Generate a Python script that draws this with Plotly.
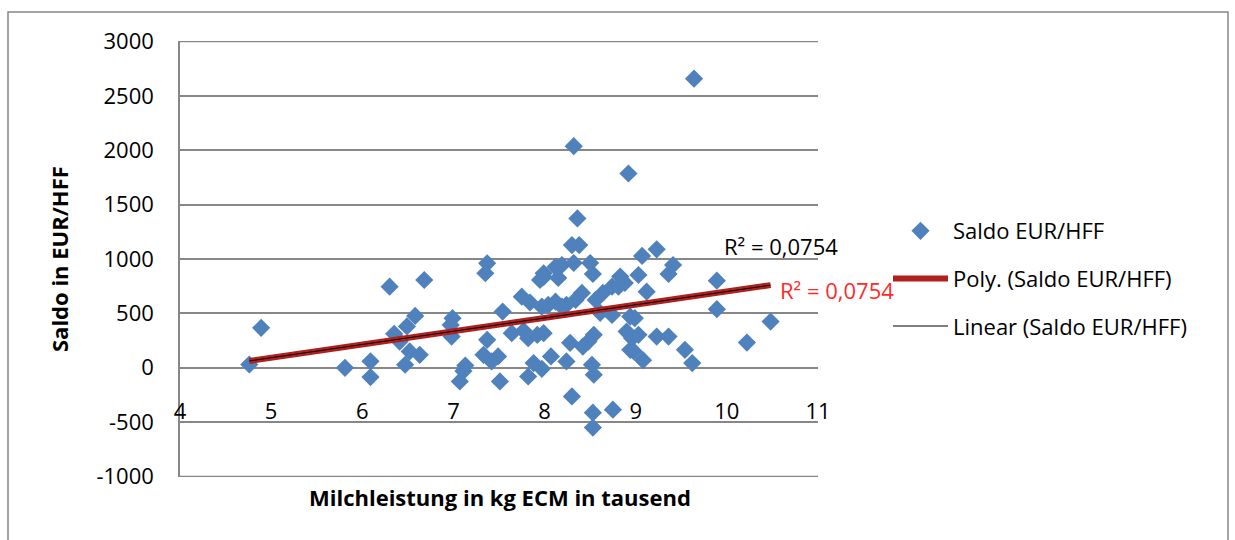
import numpy as np
import plotly.graph_objects as go

# Milchleistung in kg ECM (in tausend) and Saldo EUR/HFF
milch = [4.76, 4.89, 5.81, 6.09, 6.09, 6.30, 6.68, 6.58, 6.49, 6.35,
         6.41, 6.52, 6.63, 6.47, 6.99, 6.97, 6.98, 7.13, 7.11, 7.07,
         7.37, 7.35, 7.54, 7.37, 7.33, 7.49, 7.42, 7.51, 7.64, 7.75,
         7.84, 7.77, 7.82, 7.92, 7.95, 7.99, 7.88, 7.82, 7.97, 8.07,
         7.99, 7.99, 8.12, 8.19, 8.32, 8.50, 8.53, 8.15, 8.41, 8.34,
         8.24, 8.12, 8.04, 7.97, 8.19, 8.56, 8.64, 8.74, 8.83, 8.81,
         8.88, 8.61, 8.74, 8.94, 8.28, 8.54, 8.48, 8.42, 8.24, 8.52,
         8.54, 8.30, 8.75, 8.53, 8.53, 8.90, 8.96, 8.94, 9.08, 8.32,
         8.92, 8.36, 8.30, 8.38, 9.07, 9.23, 9.41, 9.36, 9.03, 9.12,
         9.89, 9.89, 8.99, 9.03, 9.23, 9.36, 8.98, 9.54, 9.62, 9.64,
         10.48, 10.22]
saldo = [30, 367, 0, 60, -85, 746, 807, 477, 380, 312,
         241, 150, 119, 28, 456, 394, 287, 20, -30, -125,
         960, 869, 517, 257, 119, 104, 58, -125, 318, 654,
         600, 340, 272, 303, 807, 869, 43, -80, -10, 104,
         318, 835, 927, 945, 963, 963, 862, 826, 688, 624,
         578, 608, 578, 562, 562, 624, 688, 746, 838, 746,
         780, 505, 486, 471, 229, 303, 241, 195, 58, 28,
         -64, -263, -385, -413, -550, 333, 272, 165, 70, 2037,
         1786, 1373, 1128, 1128, 1028, 1089, 945, 862, 853, 700,
         801, 539, 456, 303, 287, 287, 150, 165, 43, 2658,
         425, 232]

series_name = "Saldo EUR/HFF"
r2_label = "R² = 0,0754"
x_ticks = [4, 5, 6, 7, 8, 9, 10, 11]
y_ticks = [-1000, -500, 0, 500, 1000, 1500, 2000, 2500, 3000]
y_ticktext = ["-1000", "-500", "0", "500", "1000", "1500", "2000", "2500", "3000"]

FONT = "Open Sans"
FS = 22
GRID = "#878787"

xa = np.array(milch)
ya = np.array(saldo)
coef = np.polyfit(xa, ya, 1)
xt = np.linspace(xa.min(), xa.max(), 60)
yt = np.polyval(coef, xt)

fig = go.Figure()
fig.add_trace(go.Scatter(
    x=milch, y=saldo, mode="markers", name=series_name,
    marker=dict(symbol="diamond", size=14, color="#4F81BD", line=dict(width=0)),
    legendgroup="a"))
fig.add_trace(go.Scatter(
    x=xt, y=yt, mode="lines", name="Poly. (" + series_name + ")",
    line=dict(color="#B0201F", width=6), legendgroup="b"))
fig.add_trace(go.Scatter(
    x=xt, y=yt, mode="lines", name="Linear (" + series_name + ")",
    line=dict(color="black", width=1), legendgroup="c"))

L, R, T, B = 180, 417, 41, 63
W, H = 1235, 540
pw, ph = W - L - R, H - T - B

def px(x):
    return (x - L) / pw

def py(y):
    return (H - B - y) / ph

fig.update_layout(
    width=W, height=H,
    margin=dict(l=L, r=R, t=T, b=B),
    paper_bgcolor="white", plot_bgcolor="white",
    font=dict(family=FONT, size=FS, color="black"),
    showlegend=True,
    legend=dict(x=px(888), y=py(210), xanchor="left", yanchor="top",
                traceorder="grouped", tracegroupgap=16, itemwidth=55,
                font=dict(family=FONT, size=FS, color="black"),
                bgcolor="rgba(0,0,0,0)"),
    xaxis=dict(range=[4, 11], tickvals=x_ticks, showgrid=False, zeroline=False,
               showline=False, anchor="free", position=py(396),
               tickfont=dict(family=FONT, size=FS)),
    yaxis=dict(range=[-1004, 3004], tickvals=y_ticks, ticktext=y_ticktext,
               showgrid=True, gridcolor=GRID, gridwidth=1.5, zeroline=False,
               showline=True, linecolor=GRID, linewidth=1.5, ticks="",
               ticklabelstandoff=20, tickfont=dict(family=FONT, size=FS)),
)

# gridlines at the ends of the value range
for yv in (y_ticks[0], y_ticks[-1]):
    fig.add_shape(type="line", xref="paper", yref="y", x0=0, x1=1, y0=yv, y1=yv,
                  line=dict(color=GRID, width=1.5), layer="below")

fig.add_annotation(x=px(500), y=py(497), xref="paper", yref="paper",
                   xanchor="center", yanchor="middle",
                   text="<b>Milchleistung in kg ECM in tausend</b>", showarrow=False,
                   font=dict(family=FONT, size=FS, color="black"))
fig.add_annotation(x=px(59), y=py(259), xref="paper", yref="paper",
                   xanchor="center", yanchor="middle",
                   text="<b>Saldo in EUR/HFF</b>", showarrow=False, textangle=-90,
                   font=dict(family=FONT, size=FS, color="black"))
fig.add_annotation(x=px(722), y=py(246), xref="paper", yref="paper",
                   xanchor="left", yanchor="middle",
                   text=r2_label, showarrow=False,
                   font=dict(family=FONT, size=FS, color="black"))
fig.add_annotation(x=px(778), y=py(290), xref="paper", yref="paper",
                   xanchor="left", yanchor="middle",
                   text=r2_label, showarrow=False,
                   font=dict(family=FONT, size=FS, color="#FF2A2A"))
fig.add_shape(type="rect", xref="paper", yref="paper",
              x0=px(8), x1=px(1228), y0=py(560), y1=py(12),
              line=dict(color=GRID, width=1.5), fillcolor="rgba(0,0,0,0)", layer="below")

fig.write_html("out.html")
